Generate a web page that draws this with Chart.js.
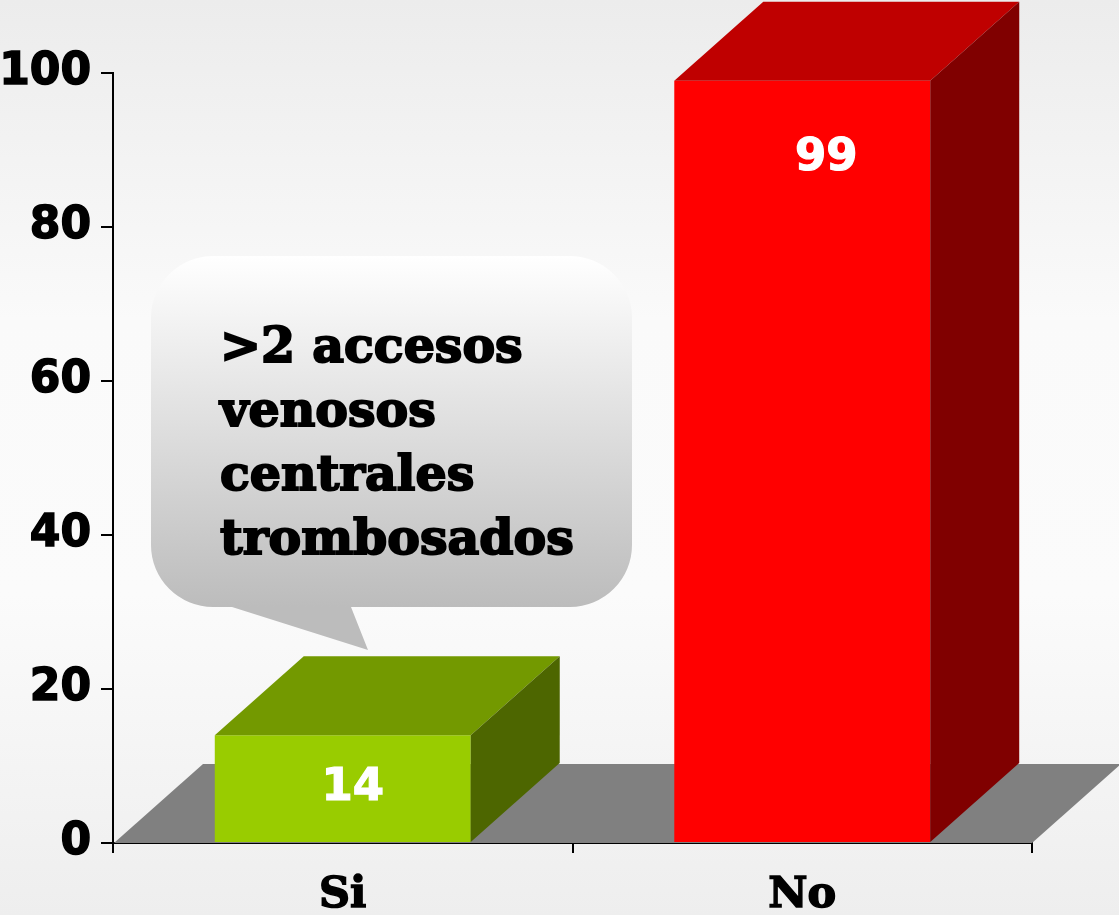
<!DOCTYPE html>
<html>
<head>
<meta charset="utf-8">
<script src="https://cdn.jsdelivr.net/npm/chart.js@4.4.1/dist/chart.umd.min.js"></script>
<style>
html,body{margin:0;padding:0;background:#fff;}
</style>
</head>
<body>
<canvas id="grafico" width="1119" height="915"></canvas>
<script>
// datos del grafico
const categorias = ['Si', 'No'];
const valores = [14, 99];
const marcasY = [0, 20, 40, 60, 80, 100];
const textoBurbuja = ['>2 accesos', 'venosos', 'centrales', 'trombosados'];

// colores de cada cara de las barras
const coloresFrente = ['#99CC00', '#FF0000'];
const coloresArriba = ['#739900', '#BF0000'];
const coloresLado = ['#4D6600', '#800000'];

// profundidad del efecto 3D
const prof = {dx: 89, dy: 79};
// corrimiento horizontal de las etiquetas de valor
const corrEtiqueta = [10, 24];

// fondo degradado de toda la imagen
const fondoPlugin = {
    id: 'fondo',
    beforeDraw(chart){
        const ctx = chart.ctx
        const g = ctx.createLinearGradient(0, 0, 0, chart.height)
        g.addColorStop(0, '#ececec')
        g.addColorStop(0.35, '#fafafa')
        g.addColorStop(0.65, '#fbfbfb')
        g.addColorStop(1, '#eeeeee')
        ctx.save()
        ctx.fillStyle = g
        ctx.fillRect(0, 0, chart.width, chart.height)
        ctx.restore()
    }
}

// piso gris y caras superior/lateral de las barras
const barras3DPlugin = {
    id: 'barras3D',
    beforeDatasetsDraw(chart){
        const ctx = chart.ctx
        const a = chart.chartArea
        ctx.save()
        ctx.fillStyle = '#808080'
        ctx.beginPath()
        ctx.moveTo(a.left + 1, a.bottom)
        ctx.lineTo(a.right, a.bottom)
        ctx.lineTo(a.right + prof.dx, a.bottom - prof.dy)
        ctx.lineTo(a.left + 1 + prof.dx, a.bottom - prof.dy)
        ctx.closePath()
        ctx.fill()
        ctx.restore()
    },
    afterDatasetsDraw(chart){
        const ctx = chart.ctx
        const meta = chart.getDatasetMeta(0)
        ctx.save()
        meta.data.forEach((bar, i) => {
            const izq = bar.x - bar.width / 2
            const der = bar.x + bar.width / 2
            const arriba = bar.y
            const base = bar.base
            //cara de arriba
            ctx.fillStyle = coloresArriba[i]
            ctx.beginPath()
            ctx.moveTo(izq, arriba)
            ctx.lineTo(izq + prof.dx, arriba - prof.dy)
            ctx.lineTo(der + prof.dx, arriba - prof.dy)
            ctx.lineTo(der, arriba)
            ctx.closePath()
            ctx.fill()
            //cara lateral
            ctx.fillStyle = coloresLado[i]
            ctx.beginPath()
            ctx.moveTo(der, arriba)
            ctx.lineTo(der + prof.dx, arriba - prof.dy)
            ctx.lineTo(der + prof.dx, base - prof.dy)
            ctx.lineTo(der, base)
            ctx.closePath()
            ctx.fill()
            //etiqueta del valor
            ctx.fillStyle = '#ffffff'
            ctx.strokeStyle = '#ffffff'
            ctx.lineWidth = 1.2
            ctx.font = 'bold 45px "DejaVu Sans"'
            ctx.textAlign = 'center'
            ctx.textBaseline = 'middle'
            const alto = base - arriba
            const yTxt = alto > 200 ? arriba + 78 : (arriba + base) / 2
            ctx.fillText(String(valores[i]), bar.x + corrEtiqueta[i], yTxt)
            ctx.strokeText(String(valores[i]), bar.x + corrEtiqueta[i], yTxt)
        })
        ctx.restore()
    }
}

// globo de texto
const globoPlugin = {
    id: 'globo',
    afterDraw(chart){
        const ctx = chart.ctx
        const x0 = 151, x1 = 632, y0 = 256, y1 = 607, r = 62
        ctx.save()
        const g = ctx.createLinearGradient(0, y0, 0, y1)
        g.addColorStop(0, '#ffffff')
        g.addColorStop(1, '#bcbcbc')
        ctx.fillStyle = g
        ctx.beginPath()
        ctx.moveTo(x0 + r, y0)
        ctx.arcTo(x1, y0, x1, y1, r)
        ctx.arcTo(x1, y1, x0, y1, r)
        ctx.lineTo(351, y1)
        ctx.lineTo(368, 650)
        ctx.lineTo(232, y1)
        ctx.arcTo(x0, y1, x0, y0, r)
        ctx.arcTo(x0, y0, x1, y0, r)
        ctx.closePath()
        ctx.fill()

        ctx.fillStyle = '#000000'
        ctx.strokeStyle = '#000000'
        ctx.lineWidth = 2
        ctx.font = 'bold 49px "DejaVu Serif"'
        ctx.textAlign = 'left'
        ctx.textBaseline = 'alphabetic'
        textoBurbuja.forEach((linea, i) => {
            ctx.fillText(linea, 220, 362 + i * 64)
            ctx.strokeText(linea, 220, 362 + i * 64)
        })
        ctx.restore()
    }
}

const ctx = document.getElementById('grafico').getContext('2d')
const chart = new Chart(ctx, {
    type: 'bar',
    data: {
        labels: categorias,
        datasets: [{
            data: valores,
            backgroundColor: coloresFrente,
            borderWidth: 0,
            barPercentage: 0.557,
            categoryPercentage: 1
        }]
    },
    options: {
        responsive: false,
        animation: false,
        devicePixelRatio: 1,
        layout: {padding: {top: 73, right: 87, left: 0, bottom: 0}},
        plugins: {
            legend: {display: false},
            tooltip: {enabled: false}
        },
        scales: {
            x: {
                grid: {offset: true, drawOnChartArea: false, color: '#000', lineWidth: 2, tickLength: 10},
                border: {color: '#000', width: 2},
                ticks: {color: '#000', font: {family: 'DejaVu Serif', weight: 'bold', size: 43}, padding: 17,
                    textStrokeColor: '#000', textStrokeWidth: 1.5},
                afterFit(s){ s.height = 72; s.paddingLeft = 0; s.paddingRight = 0 }
            },
            y: {
                min: 0,
                max: 100,
                afterBuildTicks(s){ s.ticks = marcasY.map(v => ({value: v})) },
                ticks: {color: '#000', font: {family: 'DejaVu Sans', weight: 'bold', size: 44}, padding: 10,
                    textStrokeColor: '#000', textStrokeWidth: 1.5},
                grid: {drawOnChartArea: false, color: '#000', lineWidth: 2, tickLength: 12},
                border: {color: '#000', width: 2},
                afterFit(s){ s.width = 113; s.paddingTop = 0; s.paddingBottom = 0 }
            }
        }
    },
    plugins: [fondoPlugin, barras3DPlugin, globoPlugin]
})
</script>
</body>
</html>
